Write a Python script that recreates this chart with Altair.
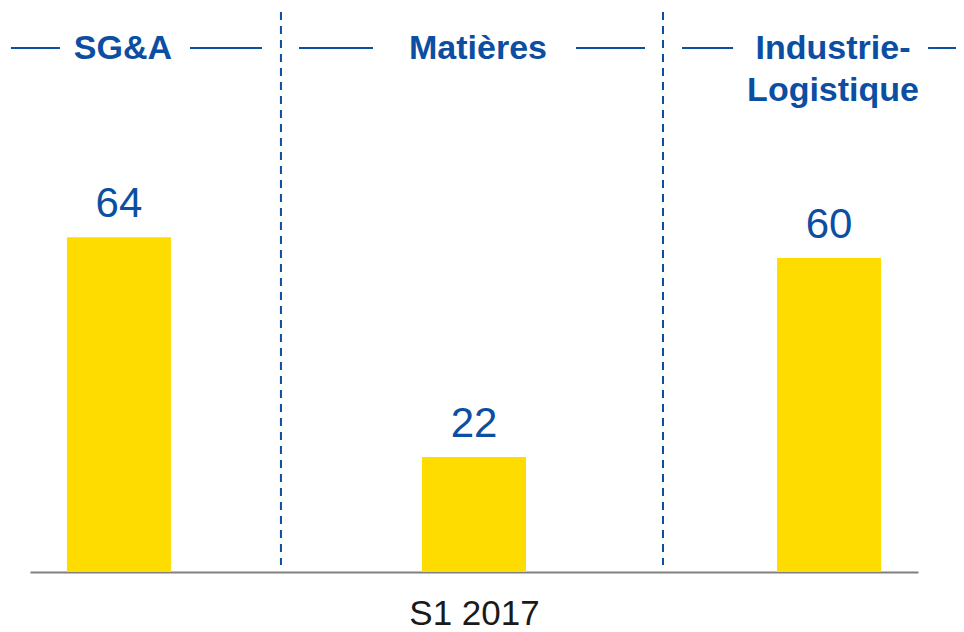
import altair as alt
import pandas as pd

categories = ["SG&A", "Matières", "Industrie-Logistique"]
values = [64, 22, 60]
headers = ["SG&A", "Matières", "Industrie-\nLogistique"]
period_label = "S1 2017"

BLUE = "#0B4EA2"
YELLOW = "#FFDC00"
FONT = "Liberation Sans"

df = pd.DataFrame({"cat": categories, "value": values, "header": headers})

xscale = alt.Scale(domain=categories, paddingInner=0.707, paddingOuter=0.104)
yscale = alt.Scale(domain=[0, 107.8], nice=False, zero=True)

base = alt.Chart(df)

bars = base.mark_bar(color=YELLOW).encode(
    x=alt.X("cat:N", sort=categories, scale=xscale, title=period_label),
    y=alt.Y("value:Q", scale=yscale, axis=None),
)

labels = base.mark_text(
    color=BLUE, font=FONT, fontSize=42, baseline="alphabetic", dy=-20
).encode(
    x=alt.X("cat:N", sort=categories),
    y=alt.Y("value:Q"),
    text=alt.Text("value:Q"),
)

header_text = base.mark_text(
    color=BLUE, font=FONT, fontSize=34, fontWeight="bold",
    baseline="alphabetic", lineBreak="\n", lineHeight=42, dx=4
).encode(
    x=alt.X("cat:N", sort=categories),
    y=alt.value(51),
    text="header:N",
)


def cat_rule(cat, **kw):
    return base.transform_filter(alt.datum.cat == cat).mark_rule(
        color=BLUE, **kw
    )


layers = [bars, labels, header_text]

# dashed separators between the columns
for cat, off in [(categories[0], 162), (categories[1], 189)]:
    layers.append(
        cat_rule(cat, strokeWidth=2, strokeDash=[8, 6], xOffset=off).encode(
            x=alt.X("cat:N", sort=categories),
            y=alt.value(4),
            y2=alt.value(557),
        )
    )

# header side lines
header_lines = {
    categories[0]: [(-108, -59), (71, 143)],
    categories[1]: [(-175, -101), (102, 171)],
    categories[2]: [(-147, -96), (99, 140)],
}
for cat, segs in header_lines.items():
    for a, b in segs:
        layers.append(
            cat_rule(cat, strokeWidth=2, xOffset=a, x2Offset=b).encode(
                x=alt.X("cat:N", sort=categories),
                x2=alt.X2("cat:N"),
                y=alt.value(40),
            )
        )

chart = (
    alt.layer(*layers)
    .properties(
        width=888,
        height=564,
        autosize=alt.AutoSizeParams(type="none"),
        padding={"left": 22, "top": 0, "right": 38, "bottom": 60},
    )
    .configure_view(stroke=None)
    .configure_axisX(
        labels=False,
        ticks=False,
        grid=False,
        domainColor="#808080",
        domainWidth=2,
        titleFont=FONT,
        titleFontSize=35,
        titleFontWeight="normal",
        titleColor="#1a1a1a",
        titlePadding=24,
    )
)

chart.save("out.html", embed_options={"renderer": "svg", "actions": False})
